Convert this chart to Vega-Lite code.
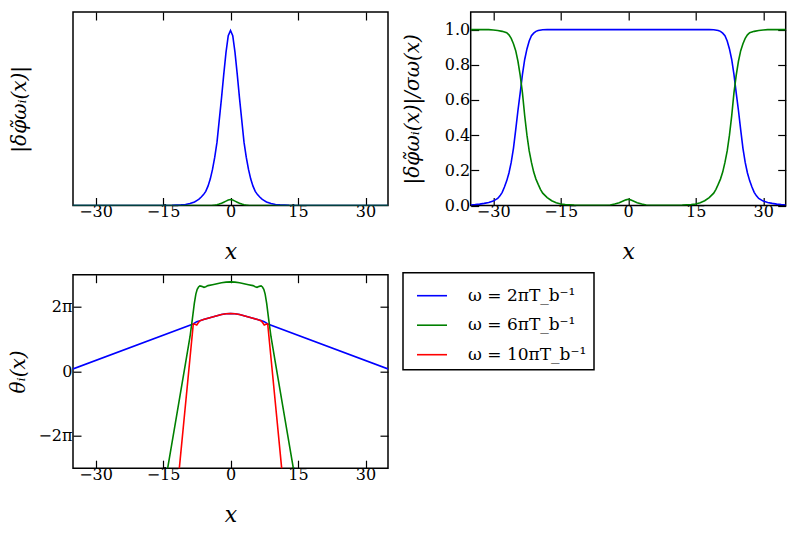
{
  "$schema": "https://vega.github.io/schema/vega-lite/v6.json",
  "padding": {"left": 7, "top": 10, "right": 5, "bottom": 5},
  "autosize": "pad",
  "background": "white",
  "config": {
    "font": "DejaVu Serif",
    "view": {"stroke": "black", "strokeWidth": 1.5},
    "axis": {"domain": false, "grid": false, "tickColor": "black", "tickSize": -8, "tickWidth": 1.2,
      "labelFont": "DejaVu Serif", "labelFontSize": 16, "labelColor": "black",
      "titleFont": "DejaVu Serif", "titleFontSize": 20, "titleFontWeight": "normal", "titleFontStyle": "italic", "titleColor": "black", "zindex": 1},
    "axisX": {"titleFontSize": 22},
    "legend": {"strokeWidth": 1.5}
  },
  "datasets": {
    "tl": [
      {"s":2,"x":-35,"v":0},{"s":2,"x":-20,"v":0},{"s":2,"x":-15,"v":0.0003},{"s":2,"x":-13,"v":0.001},{"s":2,"x":-12,"v":0.002},{"s":2,"x":-11,"v":0.0035},{"s":2,"x":-10,"v":0.006},{"s":2,"x":-9,"v":0.011},{"s":2,"x":-8,"v":0.02},{"s":2,"x":-7.5,"v":0.028},{"s":2,"x":-7,"v":0.036},{"s":2,"x":-6.5,"v":0.048},{"s":2,"x":-6,"v":0.062},{"s":2,"x":-5.5,"v":0.08},{"s":2,"x":-5,"v":0.11},{"s":2,"x":-4.5,"v":0.15},{"s":2,"x":-4,"v":0.205},{"s":2,"x":-3.5,"v":0.275},{"s":2,"x":-3,"v":0.36},{"s":2,"x":-2.5,"v":0.485},{"s":2,"x":-2,"v":0.61},{"s":2,"x":-1.5,"v":0.745},{"s":2,"x":-1,"v":0.87},{"s":2,"x":-0.5,"v":0.965},{"s":2,"x":0,"v":0.995},
      {"s":2,"x":0.5,"v":0.965},{"s":2,"x":1,"v":0.87},{"s":2,"x":1.5,"v":0.745},{"s":2,"x":2,"v":0.61},{"s":2,"x":2.5,"v":0.485},{"s":2,"x":3,"v":0.36},{"s":2,"x":3.5,"v":0.275},{"s":2,"x":4,"v":0.205},{"s":2,"x":4.5,"v":0.15},{"s":2,"x":5,"v":0.11},{"s":2,"x":5.5,"v":0.08},{"s":2,"x":6,"v":0.062},{"s":2,"x":6.5,"v":0.048},{"s":2,"x":7,"v":0.036},{"s":2,"x":7.5,"v":0.028},{"s":2,"x":8,"v":0.02},{"s":2,"x":9,"v":0.011},{"s":2,"x":10,"v":0.006},{"s":2,"x":11,"v":0.0035},{"s":2,"x":12,"v":0.002},{"s":2,"x":13,"v":0.001},{"s":2,"x":15,"v":0.0003},{"s":2,"x":20,"v":0},{"s":2,"x":35,"v":0},
      {"s":6,"x":-35,"v":0},{"s":6,"x":-5,"v":0},{"s":6,"x":-4,"v":0.001},{"s":6,"x":-3.5,"v":0.002},{"s":6,"x":-3,"v":0.004},{"s":6,"x":-2.5,"v":0.008},{"s":6,"x":-2,"v":0.013},{"s":6,"x":-1.5,"v":0.019},{"s":6,"x":-1,"v":0.025},{"s":6,"x":-0.5,"v":0.031},{"s":6,"x":0,"v":0.034},
      {"s":6,"x":0.5,"v":0.031},{"s":6,"x":1,"v":0.025},{"s":6,"x":1.5,"v":0.019},{"s":6,"x":2,"v":0.013},{"s":6,"x":2.5,"v":0.008},{"s":6,"x":3,"v":0.004},{"s":6,"x":3.5,"v":0.002},{"s":6,"x":4,"v":0.001},{"s":6,"x":5,"v":0},{"s":6,"x":35,"v":0}
    ],
    "tr": [
      {"s":2,"x":-35,"v":0.003},{"s":2,"x":-34,"v":0.005},{"s":2,"x":-33,"v":0.008},{"s":2,"x":-32,"v":0.012},{"s":2,"x":-31,"v":0.017},{"s":2,"x":-30,"v":0.025},{"s":2,"x":-29,"v":0.04},{"s":2,"x":-28.5,"v":0.055},{"s":2,"x":-28,"v":0.075},{"s":2,"x":-27.5,"v":0.105},{"s":2,"x":-27,"v":0.14},{"s":2,"x":-26.5,"v":0.185},{"s":2,"x":-26,"v":0.245},{"s":2,"x":-25.5,"v":0.325},{"s":2,"x":-25,"v":0.43},{"s":2,"x":-24.5,"v":0.54},{"s":2,"x":-24,"v":0.64},{"s":2,"x":-23.5,"v":0.745},{"s":2,"x":-23,"v":0.83},{"s":2,"x":-22.5,"v":0.89},{"s":2,"x":-22,"v":0.935},{"s":2,"x":-21.5,"v":0.965},{"s":2,"x":-21,"v":0.98},{"s":2,"x":-20.5,"v":0.99},{"s":2,"x":-20,"v":0.995},{"s":2,"x":-19,"v":0.999},{"s":2,"x":-18,"v":1},
      {"s":2,"x":18,"v":1},{"s":2,"x":19,"v":0.999},{"s":2,"x":20,"v":0.995},{"s":2,"x":20.5,"v":0.99},{"s":2,"x":21,"v":0.98},{"s":2,"x":21.5,"v":0.965},{"s":2,"x":22,"v":0.935},{"s":2,"x":22.5,"v":0.89},{"s":2,"x":23,"v":0.83},{"s":2,"x":23.5,"v":0.745},{"s":2,"x":24,"v":0.64},{"s":2,"x":24.5,"v":0.54},{"s":2,"x":25,"v":0.43},{"s":2,"x":25.5,"v":0.325},{"s":2,"x":26,"v":0.245},{"s":2,"x":26.5,"v":0.185},{"s":2,"x":27,"v":0.14},{"s":2,"x":27.5,"v":0.105},{"s":2,"x":28,"v":0.075},{"s":2,"x":28.5,"v":0.055},{"s":2,"x":29,"v":0.04},{"s":2,"x":30,"v":0.025},{"s":2,"x":31,"v":0.017},{"s":2,"x":32,"v":0.012},{"s":2,"x":33,"v":0.008},{"s":2,"x":34,"v":0.005},{"s":2,"x":35,"v":0.003},
      {"s":6,"x":-35,"v":1},{"s":6,"x":-31,"v":1},{"s":6,"x":-30,"v":0.998},{"s":6,"x":-29,"v":0.995},{"s":6,"x":-28,"v":0.99},{"s":6,"x":-27,"v":0.982},{"s":6,"x":-26.5,"v":0.97},{"s":6,"x":-26,"v":0.95},{"s":6,"x":-25.5,"v":0.92},{"s":6,"x":-25,"v":0.88},{"s":6,"x":-24.5,"v":0.82},{"s":6,"x":-24,"v":0.74},{"s":6,"x":-23.5,"v":0.64},{"s":6,"x":-23,"v":0.51},{"s":6,"x":-22.5,"v":0.4},{"s":6,"x":-22,"v":0.31},{"s":6,"x":-21.5,"v":0.245},{"s":6,"x":-21,"v":0.19},{"s":6,"x":-20.5,"v":0.15},{"s":6,"x":-20,"v":0.12},{"s":6,"x":-19.5,"v":0.092},{"s":6,"x":-19,"v":0.07},{"s":6,"x":-18,"v":0.045},{"s":6,"x":-17,"v":0.027},{"s":6,"x":-16,"v":0.016},{"s":6,"x":-15,"v":0.009},{"s":6,"x":-14,"v":0.005},{"s":6,"x":-12,"v":0.002},{"s":6,"x":-10,"v":0.001},{"s":6,"x":-6,"v":0.001},{"s":6,"x":-4,"v":0.003},{"s":6,"x":-3,"v":0.008},{"s":6,"x":-2,"v":0.016},{"s":6,"x":-1,"v":0.027},{"s":6,"x":-0.5,"v":0.032},{"s":6,"x":0,"v":0.035},
      {"s":6,"x":0.5,"v":0.032},{"s":6,"x":1,"v":0.027},{"s":6,"x":2,"v":0.016},{"s":6,"x":3,"v":0.008},{"s":6,"x":4,"v":0.003},{"s":6,"x":6,"v":0.001},{"s":6,"x":10,"v":0.001},{"s":6,"x":12,"v":0.002},{"s":6,"x":14,"v":0.005},{"s":6,"x":15,"v":0.009},{"s":6,"x":16,"v":0.016},{"s":6,"x":17,"v":0.027},{"s":6,"x":18,"v":0.045},{"s":6,"x":19,"v":0.07},{"s":6,"x":19.5,"v":0.092},{"s":6,"x":20,"v":0.12},{"s":6,"x":20.5,"v":0.15},{"s":6,"x":21,"v":0.19},{"s":6,"x":21.5,"v":0.245},{"s":6,"x":22,"v":0.31},{"s":6,"x":22.5,"v":0.4},{"s":6,"x":23,"v":0.51},{"s":6,"x":23.5,"v":0.64},{"s":6,"x":24,"v":0.74},{"s":6,"x":24.5,"v":0.82},{"s":6,"x":25,"v":0.88},{"s":6,"x":25.5,"v":0.92},{"s":6,"x":26,"v":0.95},{"s":6,"x":26.5,"v":0.97},{"s":6,"x":27,"v":0.982},{"s":6,"x":28,"v":0.99},{"s":6,"x":29,"v":0.995},{"s":6,"x":30,"v":0.998},{"s":6,"x":31,"v":1},{"s":6,"x":35,"v":1}
    ],
    "bl": [
      {"s":2,"x":-35,"v":0.25},{"s":2,"x":-8.3,"v":4.62},{"s":2,"x":-7.5,"v":4.85},{"s":2,"x":-6.8,"v":4.95},{"s":2,"x":-6,"v":5.06},{"s":2,"x":-5,"v":5.18},{"s":2,"x":-4,"v":5.31},{"s":2,"x":-3,"v":5.43},{"s":2,"x":-2,"v":5.54},{"s":2,"x":-1,"v":5.62},{"s":2,"x":0,"v":5.65},
      {"s":2,"x":1,"v":5.62},{"s":2,"x":2,"v":5.54},{"s":2,"x":3,"v":5.43},{"s":2,"x":4,"v":5.31},{"s":2,"x":5,"v":5.18},{"s":2,"x":6,"v":5.06},{"s":2,"x":6.8,"v":4.95},{"s":2,"x":7.5,"v":4.85},{"s":2,"x":8.3,"v":4.62},{"s":2,"x":35,"v":0.25},
      {"s":6,"x":-14.3,"v":-10.3},{"s":6,"x":-13.96,"v":-9.42},{"s":6,"x":-12,"v":-4.37},{"s":6,"x":-10,"v":0.78},{"s":6,"x":-9,"v":3.38},{"s":6,"x":-8.5,"v":5.03},{"s":6,"x":-8.04,"v":6.63},{"s":6,"x":-7.7,"v":7.54},{"s":6,"x":-7.4,"v":8.01},{"s":6,"x":-7.1,"v":8.23},{"s":6,"x":-6.8,"v":8.33},{"s":6,"x":-6.4,"v":8.29},{"s":6,"x":-5.9,"v":8.2},{"s":6,"x":-5.5,"v":8.26},{"s":6,"x":-5,"v":8.36},{"s":6,"x":-4,"v":8.45},{"s":6,"x":-3,"v":8.55},{"s":6,"x":-2,"v":8.64},{"s":6,"x":-1,"v":8.7},{"s":6,"x":0,"v":8.73},
      {"s":6,"x":1,"v":8.7},{"s":6,"x":2,"v":8.64},{"s":6,"x":3,"v":8.55},{"s":6,"x":4,"v":8.45},{"s":6,"x":5,"v":8.36},{"s":6,"x":5.5,"v":8.26},{"s":6,"x":5.9,"v":8.2},{"s":6,"x":6.4,"v":8.29},{"s":6,"x":6.8,"v":8.33},{"s":6,"x":7.1,"v":8.23},{"s":6,"x":7.4,"v":8.01},{"s":6,"x":7.7,"v":7.54},{"s":6,"x":8.04,"v":6.63},{"s":6,"x":8.5,"v":5.03},{"s":6,"x":9,"v":3.38},{"s":6,"x":10,"v":0.78},{"s":6,"x":12,"v":-4.37},{"s":6,"x":13.96,"v":-9.42},{"s":6,"x":14.3,"v":-10.3},
      {"s":10,"x":-11.7,"v":-10.92},{"s":10,"x":-11.37,"v":-9.42},{"s":10,"x":-10,"v":-3.22},{"s":10,"x":-9,"v":1.31},{"s":10,"x":-8.27,"v":4.62},{"s":10,"x":-7.9,"v":4.59},{"s":10,"x":-7.5,"v":4.52},{"s":10,"x":-7.2,"v":4.71},{"s":10,"x":-6.8,"v":4.93},{"s":10,"x":-6,"v":5.06},{"s":10,"x":-5,"v":5.18},{"s":10,"x":-4,"v":5.31},{"s":10,"x":-3,"v":5.43},{"s":10,"x":-2,"v":5.54},{"s":10,"x":-1,"v":5.62},{"s":10,"x":0,"v":5.65},
      {"s":10,"x":1,"v":5.62},{"s":10,"x":2,"v":5.54},{"s":10,"x":3,"v":5.43},{"s":10,"x":4,"v":5.31},{"s":10,"x":5,"v":5.18},{"s":10,"x":6,"v":5.06},{"s":10,"x":6.8,"v":4.93},{"s":10,"x":7.2,"v":4.71},{"s":10,"x":7.5,"v":4.52},{"s":10,"x":7.9,"v":4.59},{"s":10,"x":8.27,"v":4.62},{"s":10,"x":9,"v":1.31},{"s":10,"x":10,"v":-3.22},{"s":10,"x":11.37,"v":-9.42},{"s":10,"x":11.7,"v":-10.92}
    ]
  },
  "columns": 2,
  "bounds": "flush",
  "spacing": {"row": 68.7, "column": 82.7},
  "resolve": {"scale": {"color": "independent"}, "legend": {"color": "independent"}},
  "concat": [
    {
      "width": 315, "height": 193.5,
      "data": {"name": "tl"},
      "layer": [
        {"mark": {"type": "line", "strokeWidth": 1.6, "clip": true},
         "encoding": {
           "x": {"field": "x", "type": "quantitative", "scale": {"domain": [-35, 35], "nice": false, "zero": false},
                 "axis": {"orient": "bottom", "values": [-30, -15, 0, 15, 30], "title": "x", "minExtent": 26, "maxExtent": 26, "labelPadding": 6, "titlePadding": 10}},
           "y": {"field": "v", "type": "quantitative", "scale": {"domain": [0, 1.1], "nice": false},
                 "axis": {"orient": "left", "title": "|δφ̃ωᵢ(x)|", "ticks": false, "labels": false, "minExtent": 40, "maxExtent": 40, "titlePadding": 4}},
           "color": {"field": "s", "type": "nominal", "scale": {"domain": [2, 6, 10], "range": ["#0000ff", "#008000", "#ff0000"]}, "legend": null}
         }},
        {"mark": {"type": "line", "strokeOpacity": 0},
         "encoding": {
           "x": {"field": "x", "type": "quantitative", "axis": {"orient": "top", "values": [-30, -15, 0, 15, 30], "labels": false, "title": null}},
           "y": {"field": "v", "type": "quantitative", "axis": null},
           "detail": {"field": "s", "type": "nominal"}
         }}
      ],
      "resolve": {"axis": {"x": "independent", "y": "independent"}}
    },
    {
      "width": 315, "height": 193.5,
      "data": {"name": "tr"},
      "layer": [
        {"mark": {"type": "line", "strokeWidth": 1.6, "clip": true},
         "encoding": {
           "x": {"field": "x", "type": "quantitative", "scale": {"domain": [-35, 35], "nice": false, "zero": false},
                 "axis": {"orient": "bottom", "values": [-30, -15, 0, 15, 30], "title": "x", "minExtent": 26, "maxExtent": 26, "labelPadding": 6, "titlePadding": 10}},
           "y": {"field": "v", "type": "quantitative", "scale": {"domain": [0, 1.1], "nice": false},
                 "axis": {"orient": "left", "title": "|δφ̃ωᵢ(x)|/σω(x)", "values": [0, 0.2, 0.4, 0.6, 0.8, 1.0], "format": ".1f", "minExtent": 40, "maxExtent": 40, "labelPadding": 9, "titlePadding": 8}},
           "color": {"field": "s", "type": "nominal", "scale": {"domain": [2, 6, 10], "range": ["#0000ff", "#008000", "#ff0000"]}, "legend": null}
         }},
        {"mark": {"type": "line", "strokeOpacity": 0},
         "encoding": {
           "x": {"field": "x", "type": "quantitative", "axis": {"orient": "top", "values": [-30, -15, 0, 15, 30], "labels": false, "title": null}},
           "y": {"field": "v", "type": "quantitative", "axis": {"orient": "right", "values": [0, 0.2, 0.4, 0.6, 0.8, 1.0], "labels": false, "title": null}},
           "detail": {"field": "s", "type": "nominal"}
         }}
      ],
      "resolve": {"axis": {"x": "independent", "y": "independent"}}
    },
    {
      "width": 315, "height": 193.5,
      "data": {"name": "bl"},
      "layer": [
        {"mark": {"type": "line", "strokeWidth": 1.6, "clip": true},
         "encoding": {
           "x": {"field": "x", "type": "quantitative", "scale": {"domain": [-35, 35], "nice": false, "zero": false},
                 "axis": {"orient": "bottom", "values": [-30, -15, 0, 15, 30], "title": "x", "minExtent": 26, "maxExtent": 26, "labelPadding": 6, "titlePadding": 10}},
           "y": {"field": "v", "type": "quantitative", "scale": {"domain": [-9.42478, 9.42478], "nice": false, "zero": false},
                 "axis": {"orient": "left", "title": "θᵢ(x)", "values": [-6.283185, 0, 6.283185], "labelExpr": "datum.value > 1 ? '2π' : (datum.value < -1 ? '−2π' : '0')", "minExtent": 40, "maxExtent": 40, "labelPadding": 9, "titlePadding": 5}},
           "color": {"field": "s", "type": "nominal", "scale": {"domain": [2, 6, 10], "range": ["#0000ff", "#008000", "#ff0000"]},
                     "legend": {"orient": "none", "legendX": 330, "legendY": -2, "title": null, "symbolType": "stroke", "symbolSize": 900, "symbolStrokeWidth": 1.6, "symbolOpacity": 1, "symbolOffset": 6, "labelOffset": 20, "labelFont": "DejaVu Serif", "labelFontSize": 17, "labelColor": "black", "strokeColor": "black", "fillColor": "white", "padding": 7, "rowPadding": 5.5, "cornerRadius": 0,
                                "labelExpr": "'ω = ' + datum.label + 'πT_b⁻¹'"}}
         }},
        {"mark": {"type": "line", "strokeOpacity": 0},
         "encoding": {
           "x": {"field": "x", "type": "quantitative", "axis": {"orient": "top", "values": [-30, -15, 0, 15, 30], "labels": false, "title": null}},
           "y": {"field": "v", "type": "quantitative", "axis": {"orient": "right", "values": [-6.283185, 0, 6.283185], "labels": false, "title": null}},
           "detail": {"field": "s", "type": "nominal"}
         }}
      ],
      "resolve": {"axis": {"x": "independent", "y": "independent"}}
    }
  ]
}
